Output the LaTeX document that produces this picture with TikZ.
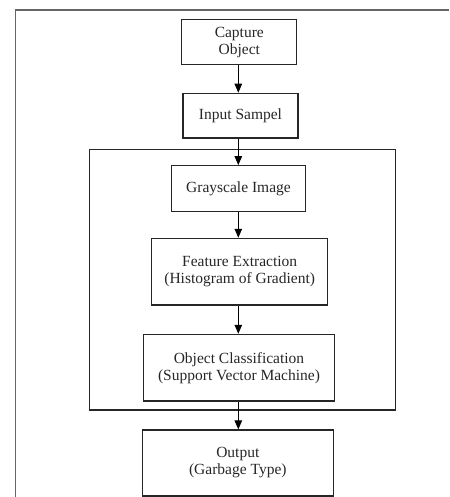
\documentclass[tikz,border=0pt]{standalone}
\usepackage{fontspec}
\setmainfont{Liberation Serif}
\usetikzlibrary{arrows.meta}
\tikzset{
  stepbox/.style={draw=black!85, line width=1.2pt, inner sep=0pt, align=center,
    font=\fontsize{15.5}{17}\selectfont, text=black!85},
  arr/.style={draw=black, line width=1pt, -{Triangle[width=7.5pt,length=9pt]}},
  frame/.style={draw=black!60, line width=1.8pt},
}
\begin{document}
\begin{tikzpicture}[x=1pt,y=-1pt]
\useasboundingbox (0,0) rectangle (449,497);
% outer frame (partially visible)
\draw[frame] (15.5,497) -- (15.5,10) -- (449,10);
% grouping box
\draw[draw=black!85, line width=1.2pt] (89.7,149.3) rectangle (395.3,410);
\node[stepbox, minimum width=115pt, minimum height=45pt] (cap) at (239.3,42.3) {Capture\\Object};
\node[stepbox, minimum width=115pt, minimum height=44.7pt] (inp) at (240.5,115.7) {Input Sampel};
\node[stepbox, minimum width=133.6pt, minimum height=45.6pt] (gray) at (238.5,188.5) {Grayscale Image};
\node[stepbox, minimum width=176pt, minimum height=66.7pt] (feat) at (239.7,271.7) {Feature Extraction\\(Histogram of Gradient)};
\node[stepbox, minimum width=191.4pt, minimum height=66.7pt] (cls) at (239,367.7) {Object Classification\\(Support Vector Machine)};
\node[stepbox, minimum width=191pt, minimum height=66pt] (out) at (237.8,463) {Output\\(Garbage Type)};
\coordinate (ax) at (238.3,0);
\draw[arr] (cap.south -| ax) -- (inp.north -| ax);
\draw[arr] (inp.south -| ax) -- (gray.north -| ax);
\draw[arr] (gray.south -| ax) -- (feat.north -| ax);
\draw[arr] (feat.south -| ax) -- (cls.north -| ax);
\draw[arr] (cls.south -| ax) -- (out.north -| ax);
\end{tikzpicture}
\end{document}
